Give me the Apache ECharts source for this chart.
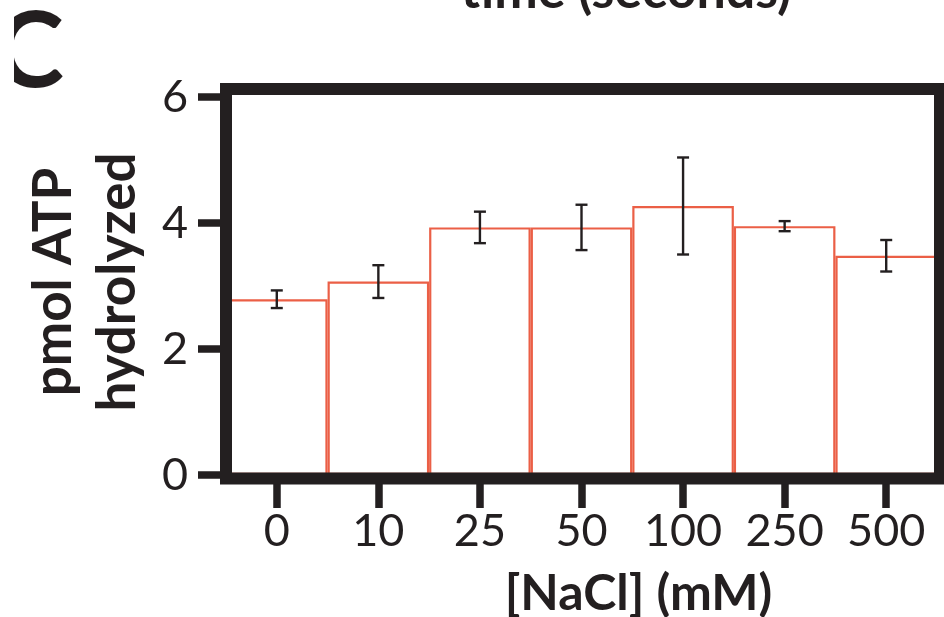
<!DOCTYPE html>
<html>
<head>
<meta charset="utf-8">
<script src="https://cdn.jsdelivr.net/npm/echarts@6/dist/echarts.min.js"></script>
<style>
  html, body { margin: 0; padding: 0; background: #fff; }
  #chart { width: 944px; height: 617px; }
</style>
</head>
<body>
<div id="chart"></div>
<script>
// NaCl concentrations (mM) on the x axis
const categories = ['0', '10', '25', '50', '100', '250', '500'];
// mean pmol ATP hydrolyzed at each concentration
const atpMean = [2.79, 3.07, 3.93, 3.93, 4.27, 3.95, 3.48];
// error (± around the mean)
const atpErr = [0.14, 0.26, 0.25, 0.36, 0.77, 0.08, 0.25];
// y axis ticks
const yTicks = [0, 2, 4, 6];

const INK = '#231f20';
const BAR_EDGE = '#eb5f46';
const FONT = 'Lato, "Noto Sans", sans-serif';

const errorData = categories.map((c, i) => [i, atpMean[i] - atpErr[i], atpMean[i] + atpErr[i]]);

const chart = echarts.init(document.getElementById('chart'), null, { renderer: 'canvas' });

const option = {
  animation: false,
  backgroundColor: '#fff',
  grid: [
    // heavy frame round the plot
    { left: 226, top: 89, right: 4, bottom: 138.5, show: true, borderColor: INK, borderWidth: 12,
      backgroundColor: 'transparent', z: 10, outerBoundsMode: 'none' },
    // data area
    { left: 226, top: 97, right: 7, bottom: 142, outerBoundsMode: 'none' }
  ],
  xAxis: [
    { gridIndex: 0, type: 'value', show: false, min: 0, max: 1 },
    {
      gridIndex: 1,
      type: 'category',
      data: categories,
      boundaryGap: true,
      axisLine: { show: false },
      axisTick: { show: true, interval: 0, alignWithLabel: true, length: 33, lineStyle: { color: INK, width: 7.5 } },
      axisLabel: { interval: 0, margin: 34, fontSize: 45, fontFamily: FONT, color: INK },
      name: '[NaCl] (mM)',
      nameLocation: 'middle',
      nameGap: 94,
      nameTextStyle: { fontSize: 50, fontWeight: 'bold', fontFamily: FONT, color: INK, padding: [0, 0, 0, 114] }
    }
  ],
  yAxis: [
    { gridIndex: 0, type: 'value', show: false, min: 0, max: 1 },
    {
      gridIndex: 1,
      type: 'value',
      min: yTicks[0],
      max: yTicks[yTicks.length - 1],
      interval: yTicks[1] - yTicks[0],
      axisLine: { show: false },
      splitLine: { show: false },
      axisTick: { show: true, length: 28, lineStyle: { color: INK, width: 7.5 } },
      axisLabel: { margin: 38, fontSize: 45, fontFamily: FONT, color: INK },
      name: 'pmol ATP\nhydrolyzed',
      nameLocation: 'middle',
      nameRotate: 90,
      nameGap: 76,
      nameTextStyle: { fontSize: 53, fontWeight: 'bold', fontFamily: FONT, color: INK,
        lineHeight: 64, padding: [0, 0, 0, 8] }
    }
  ],
  series: [
    {
      type: 'bar',
      xAxisIndex: 1,
      yAxisIndex: 1,
      data: atpMean,
      barCategoryGap: 0,
      itemStyle: { color: '#fff', borderColor: BAR_EDGE, borderWidth: 2.2 },
      z: 2
    },
    {
      type: 'custom',
      xAxisIndex: 1,
      yAxisIndex: 1,
      data: errorData,
      z: 3,
      renderItem: function (params, api) {
        const x = api.value(0);
        const lo = api.coord([x, api.value(1)]);
        const hi = api.coord([x, api.value(2)]);
        const cap = 6;
        const st = { stroke: INK, lineWidth: 2.4 };
        return {
          type: 'group',
          children: [
            { type: 'line', shape: { x1: lo[0], y1: lo[1], x2: hi[0], y2: hi[1] }, style: st },
            { type: 'line', shape: { x1: hi[0] - cap, y1: hi[1], x2: hi[0] + cap, y2: hi[1] }, style: st },
            { type: 'line', shape: { x1: lo[0] - cap, y1: lo[1], x2: lo[0] + cap, y2: lo[1] }, style: st }
          ]
        };
      }
    }
  ],
  graphic: [
    {
      type: 'text', x: 626, y: -9, z: 20,
      style: { text: 'time (seconds)', align: 'center', verticalAlign: 'middle',
        font: 'bold 52px Lato, "Noto Sans", sans-serif', fill: INK }
    },
    {
      type: 'text', x: 64, y: 53, z: 20,
      style: { text: 'C', align: 'right', verticalAlign: 'middle',
        font: 'bold 105px Lato, "Noto Sans", sans-serif', fill: INK }
    },
    {
      type: 'rect', z: 30,
      shape: { x: 0, y: 0, width: 14, height: 110 },
      style: { fill: '#fff' }
    }
  ]
};

chart.setOption(option);
</script>
</body>
</html>
